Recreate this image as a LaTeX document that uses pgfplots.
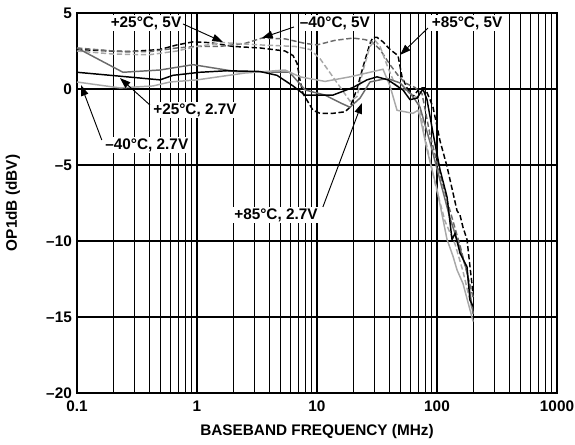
\documentclass[border=0pt]{standalone}
\usepackage{pgfplots}
\pgfplotsset{compat=1.18}
\usepackage{fontspec}
\setmainfont{Liberation Sans}
\usetikzlibrary{arrows.meta}
\definecolor{dg}{gray}{0.42}
\definecolor{lg}{gray}{0.66}
\begin{document}
\begin{tikzpicture}[font=\fontsize{11.5}{13}\selectfont\bfseries]
\begin{axis}[name=ax, scale only axis, width=360pt, height=285pt,
 xmode=log, xmin=0.1, xmax=1000, ymin=-20, ymax=5,
 xtick={0.1,1,10,100,1000}, xticklabels={0.1,1,10,100,1000},
 ytick={-20,-15,-10,-5,0,5}, yticklabels={--20,--15,--10,--5,0,5},
 /pgf/number format/assume math mode=true,
 xmajorgrids=true, xminorgrids=true, ymajorgrids=true,
 major grid style={black, line width=0.8pt},
 minor grid style={black, line width=0.8pt},
 major tick length=0pt, minor tick length=0pt,
 axis line style={line width=1.2pt},
 tick label style={font=\fontsize{11.5}{13}\selectfont\bfseries},
 xticklabel style={yshift=-2pt},
 xlabel={BASEBAND FREQUENCY (MHz)}, ylabel={OP1dB (dBV)},
 every axis x label/.style={at={(axis description cs:0.5,0)}, yshift=-29pt, anchor=center, font=\fontsize{11.5}{13}\selectfont\bfseries},
 every axis y label/.style={at={(axis description cs:0,0.5)}, xshift=-48pt, rotate=90, anchor=center, font=\fontsize{11.5}{13}\selectfont\bfseries},
 line width=1.1pt,
]
% +85C 5V black dashed
\addplot[black, dash pattern=on 4pt off 2pt] coordinates {
(0.1,2.6)(0.261,2.45)(0.4916,2.6)(0.681,2.9)(0.926,3.1)(1.283,3.05)(1.995,2.8)(3.35,2.7)(5.412,2.5)(6.31,2.2)(6.813,1.7)(7.217,0.6)(7.643,-0.3)(9.261,-1.4)(10.59,-1.6)(13.59,-1.6)(17.11,-1.5)(18.84,-1.2)(21.54,0)(24.17,1.45)(27.65,3.0)(29.29,3.4)(31.62,3.4)(35.48,3.1)(40.58,2.6)(47.32,2.2)(51.09,0.8)(56.23,0.07)(63.1,-0.5)(72.17,0.07)(79.43,0.07)(87.45,-0.7)(92.61,-1.2)(105.9,-3.4)(121.2,-5.1)(146.8,-8)(155.5,-8.3)(164.7,-9.1)(177.8,-9.9)(188.4,-11.7)(200,-13.5)};
% -40C 5V dark gray dashed
\addplot[dg, dash pattern=on 4pt off 2pt] coordinates {
(0.1,2.7)(0.1995,2.5)(0.398,2.45)(0.681,2.7)(1.0,2.8)(1.555,2.8)(2.512,3.0)(3.481,3.35)(5.412,3.3)(7.943,3.0)(10,2.9)(14.13,3.2)(19.95,3.35)(25.12,3.25)(28.73,3.1)(33.5,2.6)(40.58,1.6)(47.32,0.9)(54.12,0.4)(65.56,0.1)(74.99,-0.3)(87.45,-3)(105.9,-5.6)(128.3,-8)(155.5,-10.3)(200,-13.7)};
% +25C 5V light gray dashed
\addplot[lg, dash pattern=on 4pt off 2pt] coordinates {
(0.1,2.5)(0.1995,2.3)(0.398,2.25)(0.681,2.5)(1.0,2.8)(1.647,3.05)(3.35,2.9)(6.556,2.8)(8.745,2.6)(10.59,2.0)(14.13,0.6)(18.84,-0.8)(21.54,-0.5)(24.17,1.2)(27.65,2.8)(30.43,3.2)(33.5,2.8)(39.06,1.4)(44.67,0.3)(54.12,-0.1)(63.1,-0.4)(69.44,-0.6)(79.43,-3.2)(96.23,-6.2)(116.6,-8.7)(141.3,-10.2)(164.7,-12)(200,-14.8)};
% +85C 2.7V dark gray solid
\addplot[dg] coordinates {
(0.1,2.7)(0.1555,1.9)(0.2417,1.1)(0.4916,1.25)(0.926,1.6)(2.1,1.15)(5.9,1.1)(8.0,-0.07)(11.66,-0.4)(15.55,-0.9)(18.84,-1.2)(22.82,-0.6)(27.65,0.46)(38.31,0.7)(49.2,0.4)(63.1,-0.5)(72.17,-1.2)(87.45,-3.5)(105.9,-6)(128.3,-8.5)(155.5,-10.5)(177.8,-12)(200,-14.8)};
% -40C 2.7V light gray solid
\addplot[lg] coordinates {
(0.1,0.46)(0.2282,0.07)(0.43,0.2)(0.5957,0.46)(1.0,0.6)(2.512,1.05)(5.412,1.25)(7.217,0.8)(11.66,0.5)(18.84,0.8)(27.65,1.1)(35.48,1.3)(40.58,0.2)(46.42,-1.4)(63.1,-1.6)(69.44,-1.4)(72.17,-1.8)(82.54,-4)(100,-6.6)(121.2,-9.9)(135.9,-11)(146.8,-11.9)(164.7,-12.8)(200,-15.3)};
% +25C 2.7V black solid
\addplot[black] coordinates {
(0.1,1.1)(0.261,0.8)(0.4916,0.6)(0.631,0.9)(1.059,1.1)(1.778,1.2)(3.35,1.15)(4.642,0.9)(6.31,0.2)(7.943,-0.4)(13.59,-0.4)(19.95,0.1)(26.1,0.6)(31.62,0.8)(39.06,0.6)(52.07,-0.07)(59.57,-0.7)(68.13,-0.6)(76.42,0)(82.54,-0.7)(92.61,-2.9)(105.9,-5.3)(121.2,-7.1)(133.4,-9.9)(141.3,-9.5)(155.5,-10.8)(177.8,-11.7)(188.4,-13.9)(200,-14.3)};
% annotations
\tikzset{lab/.style={fill=white, inner sep=1pt}, arr/.style={-{Triangle[length=8pt,width=5.5pt]}, line width=0.7pt, black}}
\node[lab] at (axis cs:0.376,4.34) {+25°C, 5V};
\draw[arr] (axis cs:0.764,4.28) -- (axis cs:1.647,3.09);
\node[lab] at (axis cs:14.1,4.34) {–40°C, 5V};
\draw[arr] (axis cs:6.43,4.08) -- (axis cs:3.48,3.36);
\node[lab] at (axis cs:178,4.34) {+85°C, 5V};
\draw[arr] (axis cs:84.1,4.01) -- (axis cs:49.2,2.24);
\node[lab] at (axis cs:0.962,-1.38) {+25°C, 2.7V};
\draw[arr] (axis cs:0.405,-1.05) -- (axis cs:0.228,0.72);
\node[lab] at (axis cs:0.382,-3.68) {–40°C, 2.7V};
\draw[arr] (axis cs:0.161,-3.36) -- (axis cs:0.108,0.26);
\node[lab] at (axis cs:4.55,-8.29) {+85°C, 2.7V};
\draw[arr] (axis cs:11.2,-7.76) -- (axis cs:23.7,-0.92);
\end{axis}
\pgfresetboundingbox
\path ([xshift=-57.75pt,yshift=-39pt]ax.south west) rectangle ([xshift=13.5pt,yshift=9.75pt]ax.north east);
\end{tikzpicture}
\end{document}
